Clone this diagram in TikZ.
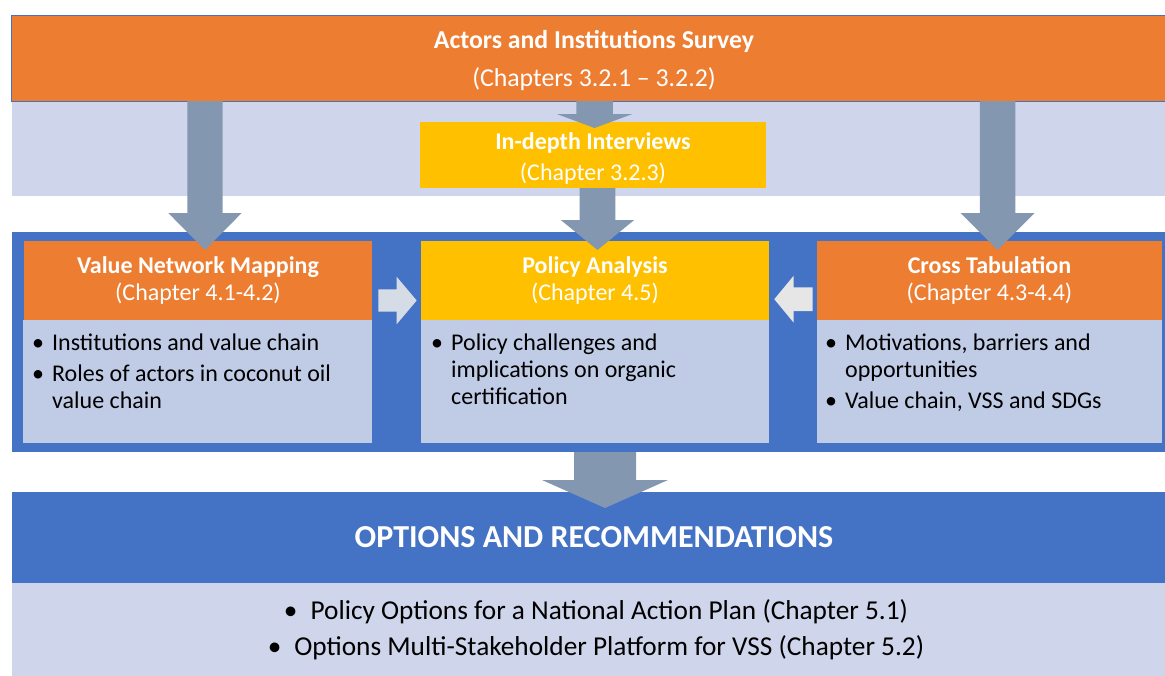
\documentclass[tikz,border=0pt]{standalone}
\usepackage{fontspec}
\setmainfont{Carlito}
\usetikzlibrary{calc}
\definecolor{survorange}{HTML}{ED7D31}
\definecolor{polyellow}{HTML}{FFC000}
\definecolor{stageblue}{HTML}{4472C4}
\definecolor{bandgrey}{HTML}{CFD5EA}
\definecolor{bodygrey}{HTML}{C0CBE6}
\definecolor{arrowgrey}{HTML}{8497B0}
\definecolor{pushlight}{HTML}{D6DCE5}
\definecolor{pulllight}{HTML}{E7E6E6}
\newcommand{\blockarrow}[6]{%
\coordinate (hb) at ($(#3)!#6pt!(#2)$);
\fill[#1] ($(#2)!#4pt!90:(#3)$) -- ($(hb)!#4pt!90:(#3)$) -- ($(hb)!#5pt!90:(#3)$) -- (#3) -- ($(hb)!#5pt!-90:(#3)$) -- ($(hb)!#4pt!-90:(#3)$) -- ($(#2)!#4pt!-90:(#3)$) -- cycle;}
\newcommand{\bitem}{\makebox[20pt][l]{\textbullet}}
\newcommand{\bcont}{\hspace*{20pt}}
\begin{document}
\begin{tikzpicture}[x=1pt,y=-1pt,
panel/.style={anchor=north west, inner sep=0pt, outer sep=0pt},
head/.style={panel, minimum height=79pt, text=white, align=center, font=\fontsize{24}{27}\selectfont},
body/.style={panel, fill=bodygrey, minimum height=123pt},
bullets/.style={anchor=north west, inner sep=0pt, align=left, font=\fontsize{24}{27}\selectfont}]
\useasboundingbox (0,0) rectangle (1165,675);
\clip (0,0) rectangle (1165,675);
\node[panel, fill=bandgrey, minimum width=1165pt, minimum height=95pt] (band) at (11.5,101) {};
\node[panel, fill=survorange, draw=stageblue, line width=0.6pt, minimum width=1165pt, minimum height=86pt] (survey) at (11.5,15) {};
\node[text=white, align=center, inner sep=0pt, font=\fontsize{25.8}{38.5}\selectfont] (surveytext) at ($(survey.center)+(0,2.5)$) {\textbf{Actors and Institutions Survey}\\(Chapters 3.2.1 – 3.2.2)};
\node[panel, fill=polyellow, minimum width=346pt, minimum height=66pt] (intv) at (420,122) {};
\node[text=white, align=center, inner sep=0pt, font=\fontsize{24}{30.5}\selectfont] (intvtext) at ($(intv.center)+(0,3.5)$) {\textbf{In-depth Interviews}\\(Chapter 3.2.3)};
\node[panel, fill=stageblue, minimum width=1165pt, minimum height=220pt] (stage) at (11.5,232) {};
\node[head, fill=survorange, minimum width=348pt] (vnm) at (24,241) {\textbf{Value Network Mapping}\\(Chapter 4.1-4.2)};
\node[body, minimum width=349pt] (vnmbody) at (23,320) {};
\node[head, fill=polyellow, minimum width=348pt] (pol) at (421,241) {\textbf{Policy Analysis}\\(Chapter 4.5)};
\node[body, minimum width=348pt] (polbody) at (421,320) {};
\node[head, fill=survorange, minimum width=345pt] (ctab) at (817,241) {\textbf{Cross Tabulation}\\(Chapter 4.3-4.4)};
\node[body, minimum width=345pt] (ctabbody) at (817,320) {};
\node[bullets] (vnmlist) at ($(vnmbody.north west)+(9,11)$) {\strut\bitem Institutions and value chain\\[4pt]\bitem Roles of actors in coconut oil\\\bcont value chain};
\node[bullets] (pollist) at ($(polbody.north west)+(10,11)$) {\strut\bitem Policy challenges and\\\bcont implications on organic\\\bcont certification};
\node[bullets] (ctablist) at ($(ctabbody.north west)+(8,11)$) {\strut\bitem Motivations, barriers and\\\bcont opportunities\\[4pt]\bitem Value chain, VSS and SDGs};
\node[panel, fill=stageblue, minimum width=1165pt, minimum height=91pt, text=white, font=\fontsize{32}{36}\selectfont\bfseries] (opts) at (11.5,492) {OPTIONS AND RECOMMENDATIONS};
\node[panel, fill=bandgrey, minimum width=1165pt, minimum height=95pt] (recs) at (11.5,583) {};
\node[align=center, inner sep=0pt, font=\fontsize{27.3}{35.5}\selectfont] (recslist) at ($(recs.north)+(2,46.5)$) {\textbullet\hspace{13pt}Policy Options for a National Action Plan (Chapter 5.1)\\\textbullet\hspace{13pt}Options Multi-Stakeholder Platform for VSS (Chapter 5.2)};
\coordinate (a1s) at (205,101);
\coordinate (a1e) at (205,250);
\coordinate (a2s) at (594.6,101);
\coordinate (a2e) at (594.6,128);
\coordinate (a3s) at (597.5,188);
\coordinate (a3e) at (597.5,250);
\coordinate (a4s) at (997.6,101);
\coordinate (a4e) at (997.6,250);
\coordinate (a5s) at (605,452);
\coordinate (a5e) at (605,508);
\coordinate (a6s) at (378.3,300.5);
\coordinate (a6e) at (416.7,300.5);
\coordinate (a7s) at (812.7,299.2);
\coordinate (a7e) at (774.3,299.2);
\blockarrow{arrowgrey}{a1s}{a1e}{17.6}{36.7}{37}
\blockarrow{arrowgrey}{a2s}{a2e}{18.2}{37.8}{14}
\blockarrow{arrowgrey}{a3s}{a3e}{17.8}{36.7}{30}
\blockarrow{arrowgrey}{a4s}{a4e}{17.8}{36.9}{37}
\blockarrow{arrowgrey}{a5s}{a5e}{31}{63}{28}
\blockarrow{pushlight}{a6s}{a6e}{11.2}{23.7}{20}
\blockarrow{pulllight}{a7s}{a7e}{11.9}{23.5}{19.4}
\end{tikzpicture}
\end{document}
